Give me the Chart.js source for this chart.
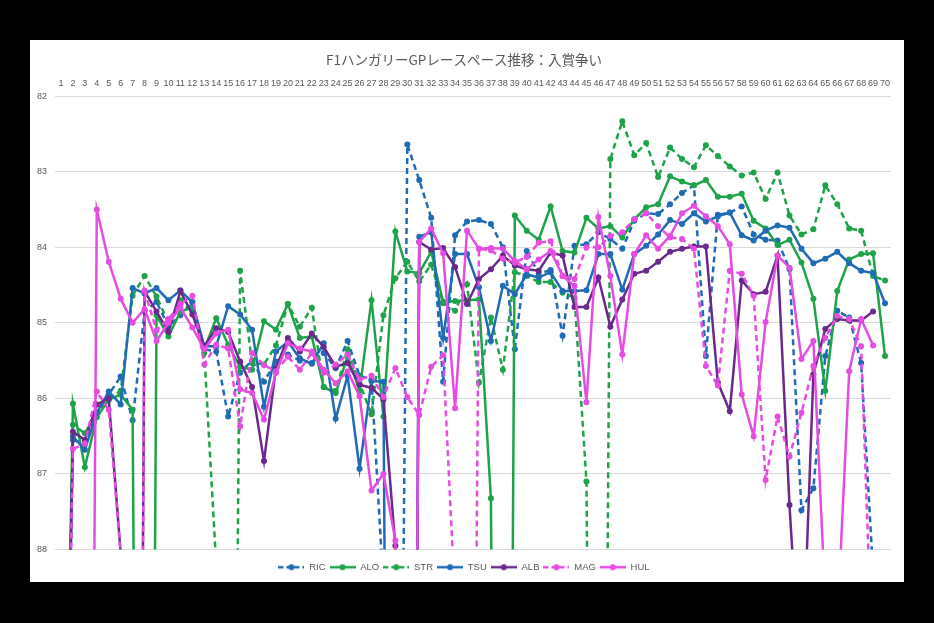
<!DOCTYPE html>
<html>
<head>
<meta charset="utf-8">
<script src="https://cdn.jsdelivr.net/npm/chart.js@4.4.1/dist/chart.umd.min.js"></script>
<style>
  html, body { margin: 0; padding: 0; background: #000; }
  #card { position: absolute; left: 30px; top: 40px; width: 874px; height: 542px; background: #fff; }
</style>
</head>
<body>
<div id="card"><canvas id="chart" width="874" height="542"></canvas></div>
<script>
// ラップ番号
var laps = ['1','2','3','4','5','6','7','8','9','10','11','12','13','14','15','16','17','18','19','20',
  '21','22','23','24','25','26','27','28','29','30','31','32','33','34','35','36','37','38','39','40',
  '41','42','43','44','45','46','47','48','49','50','51','52','53','54','55','56','57','58','59','60',
  '61','62','63','64','65','66','67','68','69','70'];

// ラップタイム（秒 - 60）、88より大きい値はグラフの外
var ric = [95, 86.55, 86.6, 86.2, 85.95, 85.71, 86.29, 84.85, 84.72, 85.05,
  84.9, 84.72, 85.35, 85.38, 86.24, 85.66, 85.5, 85.78, 85.51, 85.42,
  85.5, 85.53, 85.4, 85.6, 85.24, 85.7, 85.75, 88.5, 100, 82.64,
  83.11, 83.61, 85.78, 83.84, 83.66, 83.64, 83.69, 84.0, 85.35, 84.05,
  84.35, 84.3, 85.17, 83.98, 83.96, 83.8, 83.89, 84.02, 83.65, 83.55,
  83.56, 83.43, 83.28, 83.18, 85.44, 83.57, 83.54, 83.46, 83.83, 83.9,
  83.91, 84.29, 87.48, 87.19, 85.44, 84.84, 84.93, 85.53, 88.3, 95];
var alo = [95, 86.07, 86.91, 86.25, 86.02, 85.95, 86.15, 110, 84.9, 85.18,
  84.85, 84.8, 85.35, 84.94, 85.29, 85.58, 85.62, 84.98, 85.09, 84.75,
  85.2, 85.18, 85.85, 85.93, 85.44, 85.9, 84.7, 86.24, 83.79, 84.32,
  84.34, 84.06, 84.72, 84.71, 84.7, 84.69, 87.32, 110, 83.58, 83.78,
  83.9, 83.46, 84.05, 84.07, 83.61, 83.75, 83.72, 83.87, 83.63, 83.47,
  83.43, 83.06, 83.13, 83.18, 83.11, 83.33, 83.33, 83.29, 83.65, 83.75,
  83.97, 83.9, 84.2, 84.68, 85.9, 84.58, 84.16, 84.09, 84.08, 85.44];
var str = [95, 86.35, 86.46, 86.2, 86.0, 85.9, 84.64, 84.38, 84.65, 85.0,
  84.7, 84.85, 85.4, 88.2, 103, 84.31, 85.53, 85.55, 85.3, 84.75,
  85.05, 84.8, 85.85, 85.9, 85.35, 85.8, 86.21, 84.9, 84.41, 84.19,
  84.45, 84.23, 84.74, 84.84, 84.49, 85.79, 84.93, 85.62, 84.33, 84.38,
  84.46, 84.46, 84.6, 84.67, 87.1, 106, 82.83, 82.33, 82.78, 82.62,
  83.07, 82.68, 82.83, 82.94, 82.65, 82.79, 82.93, 83.05, 83.01, 83.36,
  83.01, 83.58, 83.83, 83.76, 83.18, 83.43, 83.75, 83.78, 84.38, 84.44];
var tsu = [95, 86.5, 86.68, 86.19, 85.91, 86.08, 84.54, 84.61, 84.54, 84.7,
  84.57, 84.73, 85.31, 85.31, 84.78, 84.89, 85.09, 86.11, 85.38, 85.25,
  85.47, 85.54, 85.27, 86.27, 85.7, 86.93, 85.77, 85.78, 110, 110,
  83.86, 83.8, 85.2, 84.09, 84.09, 84.53, 85.24, 84.51, 84.62, 84.36,
  84.4, 84.33, 84.58, 84.58, 84.57, 84.09, 84.09, 84.56, 84.09, 83.98,
  83.83, 83.64, 83.69, 83.55, 83.66, 83.59, 83.54, 83.84, 83.91, 83.78,
  83.71, 83.74, 84.02, 84.21, 84.15, 84.06, 84.21, 84.31, 84.34, 84.74];
var alb = [95, 86.44, 86.55, 86.08, 86.0, 88.05, 110, 84.58, 84.85, 85.12,
  84.58, 84.89, 85.31, 85.07, 85.12, 85.51, 85.85, 86.83, 85.6, 85.2,
  85.38, 85.14, 85.32, 85.58, 85.53, 85.82, 85.86, 86.01, 87.95, 110,
  83.93, 84.03, 84.01, 84.26, 84.75, 84.42, 84.29, 84.11, 84.24, 84.29,
  84.31, 84.07, 84.11, 84.79, 84.79, 84.4, 85.05, 84.69, 84.35, 84.31,
  84.19, 84.06, 84.02, 83.99, 83.99, 85.79, 86.17, 84.44, 84.62, 84.59,
  84.11, 87.41, 90, 85.68, 85.08, 84.95, 84.97, 84.97, 84.85, null];
var mag = [95, 86.67, 86.6, 85.91, 86.15, 88.05, 110, 84.58, 85.1, 84.95,
  84.75, 84.64, 85.55, 85.29, 85.34, 86.37, 85.4, 85.56, 85.64, 85.45,
  85.62, 85.4, 85.66, 85.55, 85.42, 85.75, 85.7, 85.98, 85.6, 85.98,
  86.22, 85.58, 85.43, 88.7, 104, 84.02, 84.04, 84.15, 84.2, 84.13,
  83.94, 83.92, 84.38, 84.42, 84.0, 84.0, 83.85, 83.8, 83.63, 83.55,
  83.72, 83.87, 83.89, 84.02, 85.57, 85.83, 84.31, 84.35, 84.64, 87.08,
  86.24, 86.77, 86.19, 85.57, 85.2, 84.91, 84.95, 85.31, 89.8, null];
var hul = [106, 106, 106, 83.5, 84.19, 84.68, 85.0, 84.82, 85.24, 85.0,
  84.8, 85.06, 85.35, 85.14, 85.09, 85.88, 85.93, 86.28, 85.66, 85.27,
  85.34, 85.38, 85.62, 85.8, 85.64, 85.97, 87.22, 87.0, 87.88, 110,
  83.93, 83.75, 84.08, 86.13, 83.78, 84.02, 84.01, 84.02, 84.18, 84.29,
  84.16, 84.05, 84.38, 84.51, 86.05, 83.6, 84.38, 85.42, 84.09, 83.84,
  84.02, 83.85, 83.55, 83.45, 83.59, 83.72, 83.96, 85.95, 86.5, 84.99,
  84.11, 84.27, 85.48, 85.24, 88.7, 89.0, 85.64, 84.95, 85.3, null];

var drivers = ['RIC', 'ALO', 'STR', 'TSU', 'ALB', 'MAG', 'HUL'];
var series = [ric, alo, str, tsu, alb, mag, hul];

var blue = '#1f6bb5';
var green = '#1ea34a';
var purple = '#6a2a8c';
var pink = '#e64ce2';
var colors = [blue, green, green, blue, purple, pink, pink];
var dashed = [true, false, true, false, false, true, false];

var textColor = '#595959';
var numFont = "'Liberation Sans', sans-serif";

// 凡例のサンプル（線＋マーカー）
function makeSample(color, isDashed) {
  var c = document.createElement('canvas');
  c.width = 26; c.height = 8;
  var g = c.getContext('2d');
  g.strokeStyle = color;
  g.lineWidth = 2.5;
  if (isDashed) g.setLineDash([5, 3]);
  g.beginPath(); g.moveTo(0, 4); g.lineTo(26, 4); g.stroke();
  g.fillStyle = color;
  g.beginPath(); g.arc(13, 4, 3, 0, Math.PI * 2); g.fill();
  return c;
}
var samples = drivers.map(function (d, i) { return makeSample(colors[i], dashed[i]); });

var datasets = drivers.map(function (d, i) {
  return {
    label: d,
    data: series[i],
    borderColor: colors[i],
    backgroundColor: colors[i],
    borderWidth: 2.5,
    borderDash: dashed[i] ? [6, 4] : [],
    pointRadius: 3,
    pointBorderWidth: 0,
    pointBackgroundColor: colors[i],
    tension: 0,
    spanGaps: false,
    order: drivers.length - i  // 後の系列を上に描く
  };
});

var ctx = document.getElementById('chart').getContext('2d');
var myChart = new Chart(ctx, {
  type: 'line',
  data: { labels: laps, datasets: datasets },
  options: {
    responsive: false,
    animation: false,
    layout: { padding: { left: 7, right: 13, top: 0, bottom: 0 } },
    plugins: {
      title: {
        display: true,
        text: 'F1ハンガリーGPレースペース推移：入賞争い',
        color: textColor,
        font: { family: "'Noto Sans CJK JP', sans-serif", size: 13.5, weight: 'normal' },
        padding: { top: 12, bottom: 8 }
      },
      legend: {
        position: 'bottom',
        labels: {
          usePointStyle: true,
          pointStyleWidth: 26,
          boxHeight: 8,
          padding: 4,
          color: textColor,
          font: { family: numFont, size: 9.5 },
          generateLabels: function (chart) {
            return chart.data.datasets.map(function (ds, i) {
              return {
                text: ds.label,
                pointStyle: samples[i],
                fillStyle: colors[i],
                strokeStyle: colors[i],
                lineWidth: 0,
                hidden: false,
                datasetIndex: i,
                fontColor: textColor
              };
            });
          }
        }
      },
      tooltip: { enabled: false }
    },
    scales: {
      x: {
        position: 'top',
        offset: true,
        grid: { display: false, drawTicks: false },
        border: { display: false },
        ticks: { autoSkip: false, maxRotation: 0, color: textColor, font: { family: numFont, size: 9 }, padding: 7 },
        afterFit: function (scale) { scale.height = 20; }
      },
      // 凡例との間隔用の空の軸
      xb: {
        type: 'category',
        position: 'bottom',
        grid: { display: false, drawTicks: false },
        border: { display: false },
        ticks: { display: false },
        afterFit: function (scale) { scale.height = 9; }
      },
      y: {
        min: 82,
        max: 88,
        reverse: true,
        grid: { color: '#d9d9d9', drawTicks: false },
        border: { display: false },
        ticks: { stepSize: 1, color: textColor, font: { family: numFont, size: 9 }, padding: 0, crossAlign: 'far' },
        afterFit: function (scale) { scale.width = 18; }
      }
    }
  }
});
</script>
</body>
</html>
